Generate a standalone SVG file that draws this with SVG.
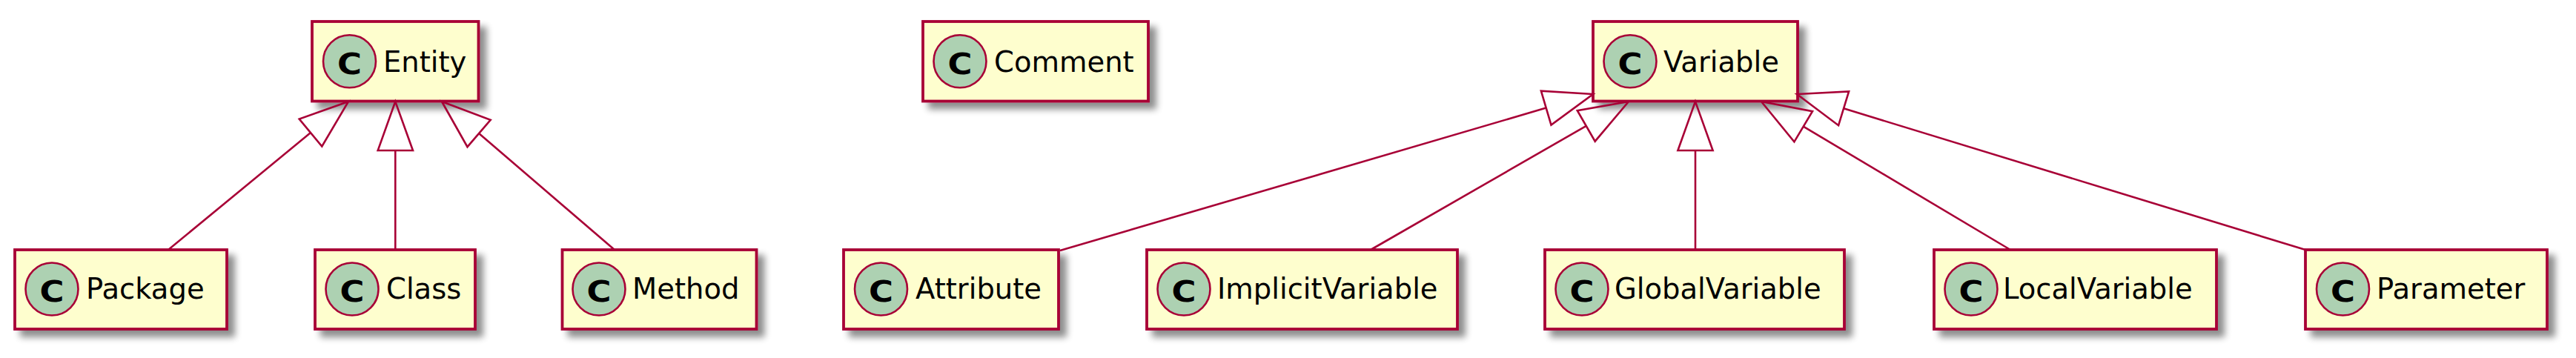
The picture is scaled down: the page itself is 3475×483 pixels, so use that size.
<svg xmlns="http://www.w3.org/2000/svg" width="3475" height="483" viewBox="0 0 3475 483">
<defs>
<filter id="sh" x="-10%" y="-10%" width="130%" height="150%">
<feGaussianBlur in="SourceAlpha" stdDeviation="5"/>
<feOffset dx="9" dy="9" result="b"/>
<feComponentTransfer><feFuncA type="linear" slope="0.45"/></feComponentTransfer>
<feMerge><feMergeNode/><feMergeNode in="SourceGraphic"/></feMerge>
</filter>
<style>
.box{fill:#FEFECE;stroke:#A80036;stroke-width:3.8}
.ci{fill:#ADD1B2;stroke:#A80036;stroke-width:2.6}
.c{font-family:"DejaVu Sans",sans-serif;font-weight:bold;font-size:39px;fill:#000}
.t{font-family:"DejaVu Sans",sans-serif;font-size:38.5px;fill:#000}
.ln{stroke:#A80036;stroke-width:2.6;fill:none}
.ah{stroke:#A80036;stroke-width:2.6;fill:none;stroke-linejoin:miter}
</style>
</defs>
<rect width="3475" height="483" fill="#FFFFFF"/>
<g id="Entity"><rect class="box" x="421" y="29" width="224.5" height="107.5" filter="url(#sh)"/><circle class="ci" cx="471.5" cy="82.8" r="35.5"/><text class="c" x="455" y="99.5" textLength="33" lengthAdjust="spacingAndGlyphs">C</text><text class="t" x="517" y="97">Entity</text></g>
<g id="Comment"><rect class="box" x="1245" y="29" width="304" height="107.5" filter="url(#sh)"/><circle class="ci" cx="1295" cy="82.8" r="35.5"/><text class="c" x="1278.5" y="99.5" textLength="33" lengthAdjust="spacingAndGlyphs">C</text><text class="t" x="1341" y="97">Comment</text></g>
<g id="Variable"><rect class="box" x="2149" y="29" width="276" height="107.5" filter="url(#sh)"/><circle class="ci" cx="2199" cy="82.8" r="35.5"/><text class="c" x="2182.5" y="99.5" textLength="33" lengthAdjust="spacingAndGlyphs">C</text><text class="t" x="2244" y="97">Variable</text></g>
<g id="Package"><rect class="box" x="20" y="337" width="286" height="107" filter="url(#sh)"/><circle class="ci" cx="70" cy="390" r="35.5"/><text class="c" x="53.5" y="406.5" textLength="33" lengthAdjust="spacingAndGlyphs">C</text><text class="t" x="116" y="403">Package</text></g>
<g id="Class"><rect class="box" x="425" y="337" width="216" height="107" filter="url(#sh)"/><circle class="ci" cx="475" cy="390" r="35.5"/><text class="c" x="458.5" y="406.5" textLength="33" lengthAdjust="spacingAndGlyphs">C</text><text class="t" x="521" y="403">Class</text></g>
<g id="Method"><rect class="box" x="758.5" y="337" width="262" height="107" filter="url(#sh)"/><circle class="ci" cx="808" cy="390" r="35.5"/><text class="c" x="791.5" y="406.5" textLength="33" lengthAdjust="spacingAndGlyphs">C</text><text class="t" x="853" y="403">Method</text></g>
<g id="Attribute"><rect class="box" x="1138" y="337" width="290" height="107" filter="url(#sh)"/><circle class="ci" cx="1188.5" cy="390" r="35.5"/><text class="c" x="1172" y="406.5" textLength="33" lengthAdjust="spacingAndGlyphs">C</text><text class="t" x="1235" y="403">Attribute</text></g>
<g id="ImplicitVariable"><rect class="box" x="1547" y="337" width="419" height="107" filter="url(#sh)"/><circle class="ci" cx="1597" cy="390" r="35.5"/><text class="c" x="1580.5" y="406.5" textLength="33" lengthAdjust="spacingAndGlyphs">C</text><text class="t" x="1642" y="403">ImplicitVariable</text></g>
<g id="GlobalVariable"><rect class="box" x="2084" y="337" width="404" height="107" filter="url(#sh)"/><circle class="ci" cx="2134" cy="390" r="35.5"/><text class="c" x="2117.5" y="406.5" textLength="33" lengthAdjust="spacingAndGlyphs">C</text><text class="t" x="2178" y="403">GlobalVariable</text></g>
<g id="LocalVariable"><rect class="box" x="2609" y="337" width="381" height="107" filter="url(#sh)"/><circle class="ci" cx="2659" cy="390" r="35.5"/><text class="c" x="2642.5" y="406.5" textLength="33" lengthAdjust="spacingAndGlyphs">C</text><text class="t" x="2702" y="403">LocalVariable</text></g>
<g id="Parameter"><rect class="box" x="3110" y="337" width="326" height="107" filter="url(#sh)"/><circle class="ci" cx="3160.5" cy="390" r="35.5"/><text class="c" x="3144" y="406.5" textLength="33" lengthAdjust="spacingAndGlyphs">C</text><text class="t" x="3206" y="403">Parameter</text></g>
<g id="connectors">
<line class="ln" x1="419" y1="179" x2="227" y2="337"/>
<polygon class="ah" points="470,137 403.7,160.5 434.3,197.5"/>
<line class="ln" x1="533.3" y1="203" x2="533.3" y2="337"/>
<polygon class="ah" points="533.3,137 509.7,203 557,203"/>
<line class="ln" x1="646.1" y1="180" x2="829" y2="337"/>
<polygon class="ah" points="596,137 630.5,198.2 661.7,161.8"/>
<line class="ln" x1="2085.7" y1="145.6" x2="1430" y2="338"/>
<polygon class="ah" points="2149,127 2078.9,122.6 2092.5,168.6"/>
<line class="ln" x1="2139.8" y1="169.9" x2="1849" y2="337"/>
<polygon class="ah" points="2197,137 2127.8,149.1 2151.7,190.7"/>
<line class="ln" x1="2287" y1="203" x2="2287" y2="337"/>
<polygon class="ah" points="2287,137 2263.4,203 2310.6,203"/>
<line class="ln" x1="2432.7" y1="170.7" x2="2712" y2="337"/>
<polygon class="ah" points="2376,137 2420.4,191.3 2445,150.1"/>
<line class="ln" x1="2487.1" y1="146.3" x2="3110" y2="337"/>
<polygon class="ah" points="2424,127 2480.1,169.2 2494.1,123.4"/>
</g>
</svg>
